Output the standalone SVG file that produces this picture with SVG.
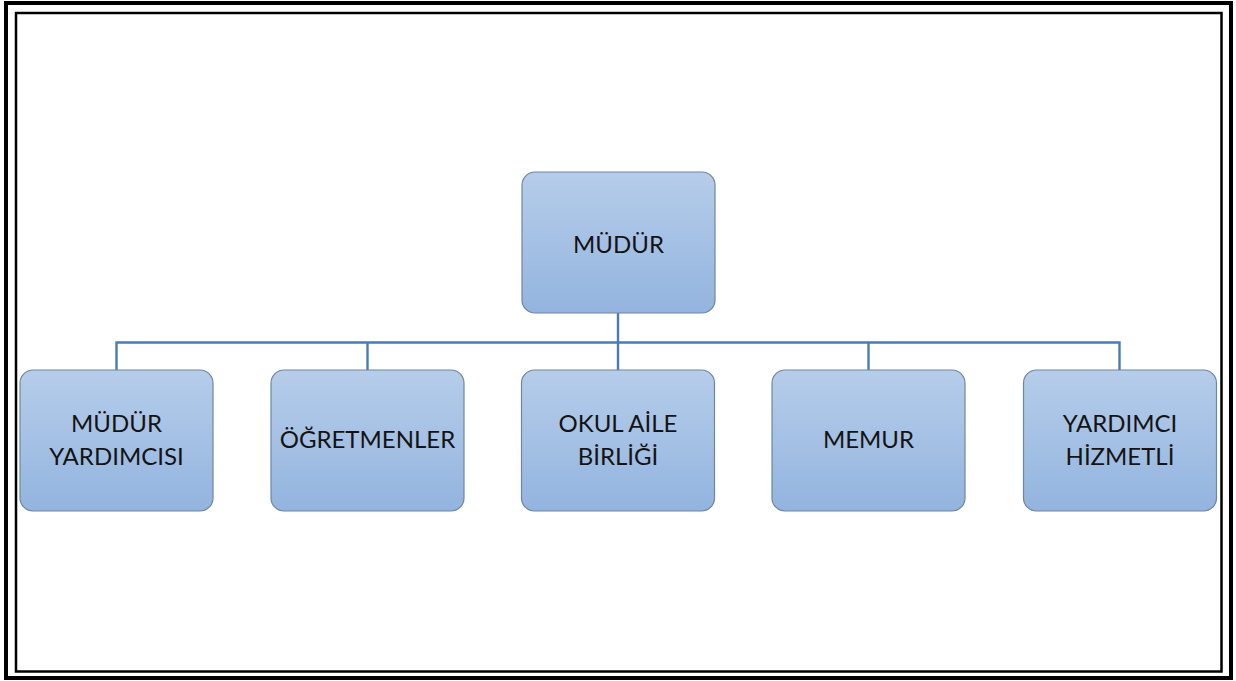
<svg xmlns="http://www.w3.org/2000/svg" width="1236" height="681" viewBox="0 0 1236 681">
  <defs>
    <linearGradient id="boxFill" x1="0" y1="0" x2="0" y2="1">
      <stop offset="0" stop-color="#b6cdea"/>
      <stop offset="1" stop-color="#93b4df"/>
    </linearGradient>
    <style>
      .box { fill: url(#boxFill); stroke: #6f86a3; stroke-width: 1.2; }
      .lbl { font-family: Lato, "Open Sans", sans-serif; font-size: 24px; fill: #141414; text-anchor: middle; }
      .conn { fill: none; stroke: #4a7bb3; stroke-width: 2.4; }
    </style>
  </defs>

  <rect width="1236" height="681" fill="#ffffff"/>

  <!-- double page frame -->
  <rect x="6" y="3" width="1225" height="675" fill="none" stroke="#000" stroke-width="4"/>
  <rect x="16" y="13" width="1205.5" height="658.5" fill="none" stroke="#000" stroke-width="2.5"/>

  <!-- connectors -->
  <g id="connectors">
    <path class="conn" d="M618 313 V370"/>
    <path class="conn" d="M116.5 370 V342.5 H1119.5 V370"/>
    <path class="conn" d="M367.5 342.5 V370"/>
    <path class="conn" d="M868.5 342.5 V370"/>
  </g>

  <g id="mudur">
    <rect class="box" x="522" y="172" width="193" height="141" rx="13"/>
    <text class="lbl" x="618.5" y="253">MÜDÜR</text>
  </g>

  <g id="mudur-yardimcisi">
    <rect class="box" x="20" y="370" width="193" height="141" rx="13"/>
    <text class="lbl" x="116.5" y="432">MÜDÜR</text>
    <text class="lbl" x="116.5" y="465">YARDIMCISI</text>
  </g>

  <g id="ogretmenler">
    <rect class="box" x="271" y="370" width="193" height="141" rx="13"/>
    <text class="lbl" x="367.5" y="448">ÖĞRETMENLER</text>
  </g>

  <g id="okul-aile-birligi">
    <rect class="box" x="521.5" y="370" width="193" height="141" rx="13"/>
    <text class="lbl" x="618" y="432">OKUL AİLE</text>
    <text class="lbl" x="618" y="465">BİRLİĞİ</text>
  </g>

  <g id="memur">
    <rect class="box" x="772" y="370" width="193" height="141" rx="13"/>
    <text class="lbl" x="868.5" y="448">MEMUR</text>
  </g>

  <g id="yardimci-hizmetli">
    <rect class="box" x="1023.5" y="370" width="193" height="141" rx="13"/>
    <text class="lbl" x="1120" y="432">YARDIMCI</text>
    <text class="lbl" x="1120" y="465">HİZMETLİ</text>
  </g>
</svg>
